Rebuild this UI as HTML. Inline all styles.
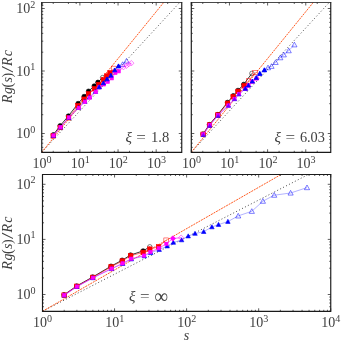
<!DOCTYPE html>
<html><head><meta charset="utf-8"><title>Rg(s)/Rc vs s</title>
<style>html,body{margin:0;padding:0;background:#fff}svg{display:block;will-change:transform}</style>
</head><body>
<svg width="341" height="342" viewBox="0 0 341 342">
<rect width="341" height="342" fill="#fff"/>
<defs><filter id="gf" x="0" y="0" width="341" height="342" filterUnits="userSpaceOnUse"><feColorMatrix type="saturate" values="1"/></filter>
<clipPath id="c0"><rect x="41.75" y="2.50" width="140.00" height="149.80"/></clipPath>
<clipPath id="c1"><rect x="191.30" y="2.50" width="139.45" height="149.80"/></clipPath>
<clipPath id="c2"><rect x="42.50" y="174.50" width="288.25" height="136.80"/></clipPath>
</defs>
<g clip-path="url(#c0)">
<line x1="41.75" y1="152.30" x2="179.67" y2="2.50" stroke="#4a4a4a" stroke-width="1.0" stroke-dasharray="1 2.3"/>
<line x1="41.75" y1="152.30" x2="163.67" y2="2.50" stroke="#ff5a20" stroke-width="1.0" stroke-dasharray="2.0 0.9"/>
<path d="M53.3 134.8L60.1 125.8L68.4 116.0L78.1 103.5L84.1 96.5L88.5 91.2L94.2 86.0L97.9 82.3L102.6 77.6" fill="none" stroke="#000" stroke-width="0.8"/>
<circle cx="53.30" cy="134.80" r="2.25" fill="#000" stroke="#000" stroke-width="0.6"/>
<circle cx="60.10" cy="125.80" r="2.25" fill="#000" stroke="#000" stroke-width="0.6"/>
<circle cx="68.40" cy="116.00" r="2.25" fill="#000" stroke="#000" stroke-width="0.6"/>
<circle cx="78.10" cy="103.50" r="2.25" fill="#000" stroke="#000" stroke-width="0.6"/>
<circle cx="84.10" cy="96.50" r="2.25" fill="#000" stroke="#000" stroke-width="0.6"/>
<circle cx="88.50" cy="91.20" r="2.25" fill="#000" stroke="#000" stroke-width="0.6"/>
<circle cx="94.20" cy="86.00" r="2.25" fill="#000" stroke="#000" stroke-width="0.6"/>
<circle cx="97.90" cy="82.30" r="2.25" fill="#000" stroke="#000" stroke-width="0.6"/>
<circle cx="102.60" cy="77.60" r="2.25" fill="none" stroke="#000" stroke-width="0.5"/>
<path d="M53.2 135.9L60.2 127.5L68.6 117.8L77.9 105.7L84.1 99.2L88.5 93.9L94.4 88.8L98.8 84.5L103.4 79.8L106.6 76.0L110.0 72.9L113.9 68.4" fill="none" stroke="#ff0000" stroke-width="0.55"/>
<rect x="50.96" y="133.66" width="4.48" height="4.48" fill="#ff0000" stroke="#ff0000" stroke-width="0.6"/>
<rect x="57.96" y="125.26" width="4.48" height="4.48" fill="#ff0000" stroke="#ff0000" stroke-width="0.6"/>
<rect x="66.36" y="115.56" width="4.48" height="4.48" fill="#ff0000" stroke="#ff0000" stroke-width="0.6"/>
<rect x="75.66" y="103.46" width="4.48" height="4.48" fill="#ff0000" stroke="#ff0000" stroke-width="0.6"/>
<rect x="81.86" y="96.96" width="4.48" height="4.48" fill="#ff0000" stroke="#ff0000" stroke-width="0.6"/>
<rect x="86.26" y="91.66" width="4.48" height="4.48" fill="#ff0000" stroke="#ff0000" stroke-width="0.6"/>
<rect x="92.16" y="86.56" width="4.48" height="4.48" fill="#ff0000" stroke="#ff0000" stroke-width="0.6"/>
<rect x="96.56" y="82.26" width="4.48" height="4.48" fill="#ff0000" stroke="#ff0000" stroke-width="0.6"/>
<rect x="101.16" y="77.56" width="4.48" height="4.48" fill="#ff0000" stroke="#ff0000" stroke-width="0.6"/>
<rect x="104.36" y="73.76" width="4.48" height="4.48" fill="#ff0000" stroke="#ff0000" stroke-width="0.6"/>
<rect x="107.76" y="70.66" width="4.48" height="4.48" fill="#ff0000" stroke="#ff0000" stroke-width="0.6"/>
<rect x="111.66" y="66.16" width="4.48" height="4.48" fill="none" stroke="#ff0000" stroke-width="0.5"/>
<path d="M53.5 135.6L60.5 127.3L68.9 117.6L78.6 107.6L84.8 101.4L89.4 97.0L95.4 91.6L99.2 87.0L103.4 83.1L107.0 79.2L110.9 75.6L114.8 70.2L118.5 66.1L122.6 64.4L126.5 61.0" fill="none" stroke="#6666ff" stroke-width="0.5"/>
<path d="M53.50 133.35L55.75 137.40H51.25Z" fill="#0000ff" stroke="#0000ff" stroke-width="0.6"/>
<path d="M60.50 125.05L62.75 129.10H58.25Z" fill="#0000ff" stroke="#0000ff" stroke-width="0.6"/>
<path d="M68.90 115.35L71.15 119.40H66.65Z" fill="#0000ff" stroke="#0000ff" stroke-width="0.6"/>
<path d="M78.60 105.35L80.85 109.40H76.35Z" fill="#0000ff" stroke="#0000ff" stroke-width="0.6"/>
<path d="M84.80 99.15L87.05 103.20H82.55Z" fill="#0000ff" stroke="#0000ff" stroke-width="0.6"/>
<path d="M89.40 94.75L91.65 98.80H87.15Z" fill="#0000ff" stroke="#0000ff" stroke-width="0.6"/>
<path d="M95.40 89.35L97.65 93.40H93.15Z" fill="#0000ff" stroke="#0000ff" stroke-width="0.6"/>
<path d="M99.20 84.75L101.45 88.80H96.95Z" fill="#0000ff" stroke="#0000ff" stroke-width="0.6"/>
<path d="M103.40 80.85L105.65 84.90H101.15Z" fill="#0000ff" stroke="#0000ff" stroke-width="0.6"/>
<path d="M107.00 76.95L109.25 81.00H104.75Z" fill="#0000ff" stroke="#0000ff" stroke-width="0.6"/>
<path d="M110.90 73.35L113.15 77.40H108.65Z" fill="#0000ff" stroke="#0000ff" stroke-width="0.6"/>
<path d="M114.80 67.95L117.05 72.00H112.55Z" fill="#0000ff" stroke="#0000ff" stroke-width="0.6"/>
<path d="M118.50 63.85L120.75 67.90H116.25Z" fill="#0000ff" stroke="#0000ff" stroke-width="0.6"/>
<path d="M122.60 61.80L125.20 66.48H120.00Z" fill="none" stroke="#0000ff" stroke-width="0.5"/>
<path d="M126.50 58.40L129.10 63.08H123.90Z" fill="none" stroke="#0000ff" stroke-width="0.5"/>
<path d="M53.5 135.5L60.5 127.2L68.9 117.5L78.8 107.9L85.0 101.8L89.8 97.6L95.8 91.8L99.5 87.3L103.9 84.4L107.8 81.8L111.8 78.3L115.4 73.0L118.7 71.3L123.4 67.2L126.5 65.8L128.7 64.1L131.3 63.2" fill="none" stroke="#ff00ff" stroke-width="0.6"/>
<rect x="51.87" y="133.87" width="3.27" height="3.27" fill="#ff00ff" stroke="#ff00ff" stroke-width="0.6"/>
<rect x="58.87" y="125.57" width="3.27" height="3.27" fill="#ff00ff" stroke="#ff00ff" stroke-width="0.6"/>
<rect x="67.27" y="115.87" width="3.27" height="3.27" fill="#ff00ff" stroke="#ff00ff" stroke-width="0.6"/>
<rect x="77.17" y="106.27" width="3.27" height="3.27" fill="#ff00ff" stroke="#ff00ff" stroke-width="0.6"/>
<rect x="83.37" y="100.17" width="3.27" height="3.27" fill="#ff00ff" stroke="#ff00ff" stroke-width="0.6"/>
<rect x="88.17" y="95.97" width="3.27" height="3.27" fill="#ff00ff" stroke="#ff00ff" stroke-width="0.6"/>
<rect x="94.17" y="90.17" width="3.27" height="3.27" fill="#ff00ff" stroke="#ff00ff" stroke-width="0.6"/>
<rect x="97.87" y="85.67" width="3.27" height="3.27" fill="#ff00ff" stroke="#ff00ff" stroke-width="0.6"/>
<rect x="102.27" y="82.77" width="3.27" height="3.27" fill="#ff00ff" stroke="#ff00ff" stroke-width="0.6"/>
<rect x="106.17" y="80.17" width="3.27" height="3.27" fill="#ff00ff" stroke="#ff00ff" stroke-width="0.6"/>
<rect x="110.17" y="76.67" width="3.27" height="3.27" fill="#ff00ff" stroke="#ff00ff" stroke-width="0.6"/>
<rect x="113.77" y="71.37" width="3.27" height="3.27" fill="#ff00ff" stroke="#ff00ff" stroke-width="0.6"/>
<rect x="117.07" y="69.67" width="3.27" height="3.27" fill="#ff00ff" stroke="#ff00ff" stroke-width="0.6"/>
<path d="M123.40 64.50L126.10 67.20L123.40 69.90L120.70 67.20Z" fill="none" stroke="#ff00ff" stroke-width="0.5"/>
<path d="M126.50 63.10L129.20 65.80L126.50 68.50L123.80 65.80Z" fill="none" stroke="#ff00ff" stroke-width="0.5"/>
<path d="M128.70 61.40L131.40 64.10L128.70 66.80L126.00 64.10Z" fill="none" stroke="#ff00ff" stroke-width="0.5"/>
<path d="M131.30 60.50L134.00 63.20L131.30 65.90L128.60 63.20Z" fill="none" stroke="#ff00ff" stroke-width="0.5"/>
<path d="M99.20 84.93L101.27 88.66H97.13Z" fill="#0000ff" stroke="#0000ff" stroke-width="0.6"/>
<path d="M103.40 81.03L105.47 84.76H101.33Z" fill="#0000ff" stroke="#0000ff" stroke-width="0.6"/>
<path d="M107.00 77.13L109.07 80.86H104.93Z" fill="#0000ff" stroke="#0000ff" stroke-width="0.6"/>
<path d="M110.90 73.53L112.97 77.26H108.83Z" fill="#0000ff" stroke="#0000ff" stroke-width="0.6"/>
<path d="M114.80 68.13L116.87 71.86H112.73Z" fill="#0000ff" stroke="#0000ff" stroke-width="0.6"/>
<path d="M118.50 64.03L120.57 67.76H116.43Z" fill="#0000ff" stroke="#0000ff" stroke-width="0.6"/>
</g>
<g clip-path="url(#c1)">
<line x1="191.30" y1="152.30" x2="329.22" y2="2.50" stroke="#4a4a4a" stroke-width="1.0" stroke-dasharray="1 2.3"/>
<line x1="191.30" y1="152.30" x2="313.22" y2="2.50" stroke="#ff5a20" stroke-width="1.0" stroke-dasharray="2.0 0.9"/>
<path d="M203.0 134.0L209.4 124.6L217.8 114.6L227.5 102.4L233.2 95.8L238.0 90.4L243.7 84.4L251.9 73.4" fill="none" stroke="#000" stroke-width="0.8"/>
<circle cx="203.00" cy="134.00" r="2.25" fill="#000" stroke="#000" stroke-width="0.6"/>
<circle cx="209.40" cy="124.60" r="2.25" fill="#000" stroke="#000" stroke-width="0.6"/>
<circle cx="217.80" cy="114.60" r="2.25" fill="#000" stroke="#000" stroke-width="0.6"/>
<circle cx="227.50" cy="102.40" r="2.25" fill="#000" stroke="#000" stroke-width="0.6"/>
<circle cx="233.20" cy="95.80" r="2.25" fill="#000" stroke="#000" stroke-width="0.6"/>
<circle cx="238.00" cy="90.40" r="2.25" fill="#000" stroke="#000" stroke-width="0.6"/>
<circle cx="243.70" cy="84.40" r="2.25" fill="#000" stroke="#000" stroke-width="0.6"/>
<circle cx="251.90" cy="73.40" r="2.25" fill="none" stroke="#000" stroke-width="0.5"/>
<path d="M203.1 134.3L209.5 125.0L217.9 115.0L227.5 103.3L233.2 96.7L238.0 91.4L244.2 85.7L248.5 81.0L255.0 72.5" fill="none" stroke="#ff0000" stroke-width="0.55"/>
<rect x="200.86" y="132.06" width="4.48" height="4.48" fill="#ff0000" stroke="#ff0000" stroke-width="0.6"/>
<rect x="207.26" y="122.76" width="4.48" height="4.48" fill="#ff0000" stroke="#ff0000" stroke-width="0.6"/>
<rect x="215.66" y="112.76" width="4.48" height="4.48" fill="#ff0000" stroke="#ff0000" stroke-width="0.6"/>
<rect x="225.26" y="101.06" width="4.48" height="4.48" fill="#ff0000" stroke="#ff0000" stroke-width="0.6"/>
<rect x="230.96" y="94.46" width="4.48" height="4.48" fill="#ff0000" stroke="#ff0000" stroke-width="0.6"/>
<rect x="235.76" y="89.16" width="4.48" height="4.48" fill="#ff0000" stroke="#ff0000" stroke-width="0.6"/>
<rect x="241.96" y="83.46" width="4.48" height="4.48" fill="#ff0000" stroke="#ff0000" stroke-width="0.6"/>
<rect x="246.26" y="78.76" width="4.48" height="4.48" fill="none" stroke="#ff0000" stroke-width="0.5"/>
<rect x="252.76" y="70.26" width="4.48" height="4.48" fill="none" stroke="#ff0000" stroke-width="0.5"/>
<path d="M203.3 134.6L209.7 125.4L218.1 115.5L228.4 105.5L234.5 98.9L238.9 94.1L245.3 88.6L248.4 85.3L252.3 81.3L256.3 77.8L259.8 73.6L264.4 70.0L268.0 67.7L271.5 66.3L275.6 62.4L280.3 57.7L283.8 54.8L288.7 50.7L294.4 44.8" fill="none" stroke="#6666ff" stroke-width="0.5"/>
<path d="M203.30 132.35L205.55 136.40H201.05Z" fill="#0000ff" stroke="#0000ff" stroke-width="0.6"/>
<path d="M209.70 123.15L211.95 127.20H207.45Z" fill="#0000ff" stroke="#0000ff" stroke-width="0.6"/>
<path d="M218.10 113.25L220.35 117.30H215.85Z" fill="#0000ff" stroke="#0000ff" stroke-width="0.6"/>
<path d="M228.40 103.25L230.65 107.30H226.15Z" fill="#0000ff" stroke="#0000ff" stroke-width="0.6"/>
<path d="M234.50 96.65L236.75 100.70H232.25Z" fill="#0000ff" stroke="#0000ff" stroke-width="0.6"/>
<path d="M238.90 91.85L241.15 95.90H236.65Z" fill="#0000ff" stroke="#0000ff" stroke-width="0.6"/>
<path d="M245.30 86.35L247.55 90.40H243.05Z" fill="#0000ff" stroke="#0000ff" stroke-width="0.6"/>
<path d="M248.40 83.05L250.65 87.10H246.15Z" fill="#0000ff" stroke="#0000ff" stroke-width="0.6"/>
<path d="M252.30 79.05L254.55 83.10H250.05Z" fill="#0000ff" stroke="#0000ff" stroke-width="0.6"/>
<path d="M256.30 75.55L258.55 79.60H254.05Z" fill="#0000ff" stroke="#0000ff" stroke-width="0.6"/>
<path d="M259.80 71.35L262.05 75.40H257.55Z" fill="#0000ff" stroke="#0000ff" stroke-width="0.6"/>
<path d="M264.40 67.75L266.65 71.80H262.15Z" fill="#0000ff" stroke="#0000ff" stroke-width="0.6"/>
<path d="M268.00 65.10L270.60 69.78H265.40Z" fill="none" stroke="#0000ff" stroke-width="0.5"/>
<path d="M271.50 63.70L274.10 68.38H268.90Z" fill="none" stroke="#0000ff" stroke-width="0.5"/>
<path d="M275.60 59.80L278.20 64.48H273.00Z" fill="none" stroke="#0000ff" stroke-width="0.5"/>
<path d="M280.30 55.10L282.90 59.78H277.70Z" fill="none" stroke="#0000ff" stroke-width="0.5"/>
<path d="M283.80 52.20L286.40 56.88H281.20Z" fill="none" stroke="#0000ff" stroke-width="0.5"/>
<path d="M288.70 48.10L291.30 52.78H286.10Z" fill="none" stroke="#0000ff" stroke-width="0.5"/>
<path d="M294.40 42.20L297.00 46.88H291.80Z" fill="none" stroke="#0000ff" stroke-width="0.5"/>
<path d="M203.2 134.4L209.6 125.2L218.0 115.2L228.4 105.5L234.5 98.9L238.9 94.1L245.5 88.8L248.5 85.5L252.4 81.6L256.6 78.5" fill="none" stroke="#ff00ff" stroke-width="0.6"/>
<rect x="201.57" y="132.77" width="3.27" height="3.27" fill="#ff00ff" stroke="#ff00ff" stroke-width="0.6"/>
<rect x="207.97" y="123.57" width="3.27" height="3.27" fill="#ff00ff" stroke="#ff00ff" stroke-width="0.6"/>
<rect x="216.37" y="113.57" width="3.27" height="3.27" fill="#ff00ff" stroke="#ff00ff" stroke-width="0.6"/>
<rect x="226.77" y="103.87" width="3.27" height="3.27" fill="#ff00ff" stroke="#ff00ff" stroke-width="0.6"/>
<rect x="232.87" y="97.27" width="3.27" height="3.27" fill="#ff00ff" stroke="#ff00ff" stroke-width="0.6"/>
<rect x="237.27" y="92.47" width="3.27" height="3.27" fill="#ff00ff" stroke="#ff00ff" stroke-width="0.6"/>
<rect x="243.87" y="87.17" width="3.27" height="3.27" fill="#ff00ff" stroke="#ff00ff" stroke-width="0.6"/>
<rect x="246.87" y="83.87" width="3.27" height="3.27" fill="#ff00ff" stroke="#ff00ff" stroke-width="0.6"/>
<rect x="250.77" y="79.97" width="3.27" height="3.27" fill="#ff00ff" stroke="#ff00ff" stroke-width="0.6"/>
<rect x="254.97" y="76.87" width="3.27" height="3.27" fill="#ff00ff" stroke="#ff00ff" stroke-width="0.6"/>
<path d="M245.30 86.53L247.37 90.26H243.23Z" fill="#0000ff" stroke="#0000ff" stroke-width="0.6"/>
<path d="M248.40 83.23L250.47 86.96H246.33Z" fill="#0000ff" stroke="#0000ff" stroke-width="0.6"/>
<path d="M252.30 79.23L254.37 82.96H250.23Z" fill="#0000ff" stroke="#0000ff" stroke-width="0.6"/>
<path d="M256.30 75.73L258.37 79.46H254.23Z" fill="#0000ff" stroke="#0000ff" stroke-width="0.6"/>
<path d="M259.80 71.53L261.87 75.26H257.73Z" fill="#0000ff" stroke="#0000ff" stroke-width="0.6"/>
<path d="M264.40 67.93L266.47 71.66H262.33Z" fill="#0000ff" stroke="#0000ff" stroke-width="0.6"/>
<g opacity="0.55">
<path d="M203.30 133.33L204.88 136.16H201.73Z" fill="#0000ff" stroke="#0000ff" stroke-width="0.6"/>
<path d="M209.70 124.12L211.27 126.96H208.12Z" fill="#0000ff" stroke="#0000ff" stroke-width="0.6"/>
<path d="M218.10 114.22L219.67 117.06H216.53Z" fill="#0000ff" stroke="#0000ff" stroke-width="0.6"/>
<path d="M228.40 104.22L229.97 107.06H226.83Z" fill="#0000ff" stroke="#0000ff" stroke-width="0.6"/>
<path d="M234.50 97.62L236.07 100.46H232.93Z" fill="#0000ff" stroke="#0000ff" stroke-width="0.6"/>
<path d="M238.90 92.82L240.47 95.66H237.33Z" fill="#0000ff" stroke="#0000ff" stroke-width="0.6"/>
</g>
</g>
<g clip-path="url(#c2)">
<line x1="42.50" y1="311.30" x2="308.34" y2="174.50" stroke="#4a4a4a" stroke-width="1.0" stroke-dasharray="1 2.3"/>
<line x1="42.50" y1="311.30" x2="281.04" y2="174.50" stroke="#ff5a20" stroke-width="1.0" stroke-dasharray="2.0 0.9"/>
<path d="M64.0 294.8L76.7 286.0L92.7 277.0L111.0 266.2L122.2 260.2L130.6 255.0L143.1 250.9L149.8 246.8" fill="none" stroke="#000" stroke-width="0.8"/>
<circle cx="64.00" cy="294.80" r="2.25" fill="#000" stroke="#000" stroke-width="0.6"/>
<circle cx="76.70" cy="286.00" r="2.25" fill="#000" stroke="#000" stroke-width="0.6"/>
<circle cx="92.70" cy="277.00" r="2.25" fill="#000" stroke="#000" stroke-width="0.6"/>
<circle cx="111.00" cy="266.20" r="2.25" fill="#000" stroke="#000" stroke-width="0.6"/>
<circle cx="122.20" cy="260.20" r="2.25" fill="#000" stroke="#000" stroke-width="0.6"/>
<circle cx="130.60" cy="255.00" r="2.25" fill="#000" stroke="#000" stroke-width="0.6"/>
<circle cx="143.10" cy="250.90" r="2.25" fill="#000" stroke="#000" stroke-width="0.6"/>
<circle cx="149.80" cy="246.80" r="2.25" fill="none" stroke="#000" stroke-width="0.5"/>
<path d="M64.1 295.1L76.8 286.3L92.8 277.4L111.1 266.9L122.3 261.0L130.7 255.7L143.1 252.4L149.8 249.1L158.6 246.8L166.1 240.2" fill="none" stroke="#ff0000" stroke-width="0.55"/>
<rect x="61.86" y="292.86" width="4.48" height="4.48" fill="#ff0000" stroke="#ff0000" stroke-width="0.6"/>
<rect x="74.56" y="284.06" width="4.48" height="4.48" fill="#ff0000" stroke="#ff0000" stroke-width="0.6"/>
<rect x="90.56" y="275.16" width="4.48" height="4.48" fill="#ff0000" stroke="#ff0000" stroke-width="0.6"/>
<rect x="108.86" y="264.66" width="4.48" height="4.48" fill="#ff0000" stroke="#ff0000" stroke-width="0.6"/>
<rect x="120.06" y="258.76" width="4.48" height="4.48" fill="#ff0000" stroke="#ff0000" stroke-width="0.6"/>
<rect x="128.46" y="253.46" width="4.48" height="4.48" fill="#ff0000" stroke="#ff0000" stroke-width="0.6"/>
<rect x="140.86" y="250.16" width="4.48" height="4.48" fill="#ff0000" stroke="#ff0000" stroke-width="0.6"/>
<rect x="147.56" y="246.86" width="4.48" height="4.48" fill="#ff0000" stroke="#ff0000" stroke-width="0.6"/>
<rect x="156.36" y="244.56" width="4.48" height="4.48" fill="#ff0000" stroke="#ff0000" stroke-width="0.6"/>
<rect x="163.86" y="237.96" width="4.48" height="4.48" fill="none" stroke="#ff0000" stroke-width="0.5"/>
<path d="M64.2 295.3L76.9 286.7L92.9 277.9L111.6 268.8L122.7 263.7L131.3 259.1L144.3 256.0L150.8 252.8L159.2 249.6L167.2 246.1L173.3 242.5L181.6 240.0L188.2 236.1L195.0 233.5L203.7 231.7L211.9 227.0L218.5 224.6L227.9 221.6L238.2 215.9L251.8 211.3L262.9 201.2L274.2 195.2L290.6 193.0L307.0 187.6" fill="none" stroke="#6666ff" stroke-width="0.5"/>
<path d="M64.20 293.05L66.45 297.10H61.95Z" fill="#0000ff" stroke="#0000ff" stroke-width="0.6"/>
<path d="M76.90 284.45L79.15 288.50H74.65Z" fill="#0000ff" stroke="#0000ff" stroke-width="0.6"/>
<path d="M92.90 275.65L95.15 279.70H90.65Z" fill="#0000ff" stroke="#0000ff" stroke-width="0.6"/>
<path d="M111.60 266.55L113.85 270.60H109.35Z" fill="#0000ff" stroke="#0000ff" stroke-width="0.6"/>
<path d="M122.70 261.45L124.95 265.50H120.45Z" fill="#0000ff" stroke="#0000ff" stroke-width="0.6"/>
<path d="M131.30 256.85L133.55 260.90H129.05Z" fill="#0000ff" stroke="#0000ff" stroke-width="0.6"/>
<path d="M144.30 253.75L146.55 257.80H142.05Z" fill="#0000ff" stroke="#0000ff" stroke-width="0.6"/>
<path d="M150.80 250.55L153.05 254.60H148.55Z" fill="#0000ff" stroke="#0000ff" stroke-width="0.6"/>
<path d="M159.20 247.35L161.45 251.40H156.95Z" fill="#0000ff" stroke="#0000ff" stroke-width="0.6"/>
<path d="M167.20 243.85L169.45 247.90H164.95Z" fill="#0000ff" stroke="#0000ff" stroke-width="0.6"/>
<path d="M173.30 240.25L175.55 244.30H171.05Z" fill="#0000ff" stroke="#0000ff" stroke-width="0.6"/>
<path d="M181.60 237.75L183.85 241.80H179.35Z" fill="#0000ff" stroke="#0000ff" stroke-width="0.6"/>
<path d="M188.20 233.85L190.45 237.90H185.95Z" fill="#0000ff" stroke="#0000ff" stroke-width="0.6"/>
<path d="M195.00 231.25L197.25 235.30H192.75Z" fill="#0000ff" stroke="#0000ff" stroke-width="0.6"/>
<path d="M203.70 229.45L205.95 233.50H201.45Z" fill="#0000ff" stroke="#0000ff" stroke-width="0.6"/>
<path d="M211.90 224.75L214.15 228.80H209.65Z" fill="#0000ff" stroke="#0000ff" stroke-width="0.6"/>
<path d="M218.50 222.35L220.75 226.40H216.25Z" fill="#0000ff" stroke="#0000ff" stroke-width="0.6"/>
<path d="M227.90 219.35L230.15 223.40H225.65Z" fill="#0000ff" stroke="#0000ff" stroke-width="0.6"/>
<path d="M238.20 213.30L240.80 217.98H235.60Z" fill="none" stroke="#0000ff" stroke-width="0.5"/>
<path d="M251.80 208.70L254.40 213.38H249.20Z" fill="none" stroke="#0000ff" stroke-width="0.5"/>
<path d="M262.90 198.60L265.50 203.28H260.30Z" fill="none" stroke="#0000ff" stroke-width="0.5"/>
<path d="M274.20 192.60L276.80 197.28H271.60Z" fill="none" stroke="#0000ff" stroke-width="0.5"/>
<path d="M290.60 190.40L293.20 195.08H288.00Z" fill="none" stroke="#0000ff" stroke-width="0.5"/>
<path d="M307.00 185.00L309.60 189.68H304.40Z" fill="none" stroke="#0000ff" stroke-width="0.5"/>
<path d="M64.2 295.2L76.9 286.6L92.9 277.8L111.5 268.6L122.5 263.4L131.1 258.7L144.0 255.6L150.4 252.0L158.8 248.3L166.4 243.8L172.9 238.5L181.1 237.7" fill="none" stroke="#ff00ff" stroke-width="0.6"/>
<rect x="62.57" y="293.57" width="3.27" height="3.27" fill="#ff00ff" stroke="#ff00ff" stroke-width="0.6"/>
<rect x="75.27" y="284.97" width="3.27" height="3.27" fill="#ff00ff" stroke="#ff00ff" stroke-width="0.6"/>
<rect x="91.27" y="276.17" width="3.27" height="3.27" fill="#ff00ff" stroke="#ff00ff" stroke-width="0.6"/>
<rect x="109.87" y="266.97" width="3.27" height="3.27" fill="#ff00ff" stroke="#ff00ff" stroke-width="0.6"/>
<rect x="120.87" y="261.77" width="3.27" height="3.27" fill="#ff00ff" stroke="#ff00ff" stroke-width="0.6"/>
<rect x="129.47" y="257.07" width="3.27" height="3.27" fill="#ff00ff" stroke="#ff00ff" stroke-width="0.6"/>
<rect x="142.37" y="253.97" width="3.27" height="3.27" fill="#ff00ff" stroke="#ff00ff" stroke-width="0.6"/>
<rect x="148.77" y="250.37" width="3.27" height="3.27" fill="#ff00ff" stroke="#ff00ff" stroke-width="0.6"/>
<rect x="157.17" y="246.67" width="3.27" height="3.27" fill="#ff00ff" stroke="#ff00ff" stroke-width="0.6"/>
<rect x="164.77" y="242.17" width="3.27" height="3.27" fill="#ff00ff" stroke="#ff00ff" stroke-width="0.6"/>
<path d="M172.90 235.80L175.60 238.50L172.90 241.20L170.20 238.50Z" fill="#ff00ff" stroke="#ff00ff" stroke-width="0.6"/>
<path d="M181.10 235.00L183.80 237.70L181.10 240.40L178.40 237.70Z" fill="none" stroke="#ff00ff" stroke-width="0.5"/>
</g>
<path d="M41.75 2.20V152.30H181.75V2.20" fill="none" stroke="#1a1a1a" stroke-width="1.15" stroke-linejoin="miter"/>
<path d="M41.25 2.50H182.25" fill="none" stroke="#1a1a1a" stroke-width="0.8"/>
<path d="M41.75 152.30v-3.0M41.75 2.50v3.0M53.23 152.30v-1.5M53.23 2.50v1.5M68.42 152.30v-1.5M68.42 2.50v1.5M76.20 152.30v-1.5M76.20 2.50v1.5M79.90 152.30v-3.0M79.90 2.50v3.0M91.38 152.30v-1.5M91.38 2.50v1.5M106.57 152.30v-1.5M106.57 2.50v1.5M114.35 152.30v-1.5M114.35 2.50v1.5M118.05 152.30v-3.0M118.05 2.50v3.0M129.53 152.30v-1.5M129.53 2.50v1.5M144.72 152.30v-1.5M144.72 2.50v1.5M152.50 152.30v-1.5M152.50 2.50v1.5M156.20 152.30v-3.0M156.20 2.50v3.0M167.68 152.30v-1.5M167.68 2.50v1.5M41.75 147.37h1.5M181.75 147.37h-1.5M41.75 143.18h1.5M181.75 143.18h-1.5M41.75 139.56h1.5M181.75 139.56h-1.5M41.75 136.36h1.5M181.75 136.36h-1.5M41.75 133.50h3.0M181.75 133.50h-3.0M41.75 114.69h1.5M181.75 114.69h-1.5M41.75 103.68h1.5M181.75 103.68h-1.5M41.75 95.87h1.5M181.75 95.87h-1.5M41.75 89.81h1.5M181.75 89.81h-1.5M41.75 84.87h1.5M181.75 84.87h-1.5M41.75 80.68h1.5M181.75 80.68h-1.5M41.75 77.06h1.5M181.75 77.06h-1.5M41.75 73.86h1.5M181.75 73.86h-1.5M41.75 71.00h3.0M181.75 71.00h-3.0M41.75 52.19h1.5M181.75 52.19h-1.5M41.75 41.18h1.5M181.75 41.18h-1.5M41.75 33.37h1.5M181.75 33.37h-1.5M41.75 27.31h1.5M181.75 27.31h-1.5M41.75 22.37h1.5M181.75 22.37h-1.5M41.75 18.18h1.5M181.75 18.18h-1.5M41.75 14.56h1.5M181.75 14.56h-1.5M41.75 11.36h1.5M181.75 11.36h-1.5M41.75 8.50h3.0M181.75 8.50h-3.0M41.75 3.9h1.4M41.75 5.4h1.6" stroke="#1a1a1a" stroke-width="0.7" fill="none"/>
<path d="M191.30 2.20V152.30H330.75V2.20" fill="none" stroke="#1a1a1a" stroke-width="1.15" stroke-linejoin="miter"/>
<path d="M190.80 2.50H331.25" fill="none" stroke="#1a1a1a" stroke-width="0.8"/>
<path d="M191.30 152.30v-3.0M191.30 2.50v3.0M202.78 152.30v-1.5M202.78 2.50v1.5M217.97 152.30v-1.5M217.97 2.50v1.5M225.75 152.30v-1.5M225.75 2.50v1.5M229.45 152.30v-3.0M229.45 2.50v3.0M240.93 152.30v-1.5M240.93 2.50v1.5M256.12 152.30v-1.5M256.12 2.50v1.5M263.90 152.30v-1.5M263.90 2.50v1.5M267.60 152.30v-3.0M267.60 2.50v3.0M279.08 152.30v-1.5M279.08 2.50v1.5M294.27 152.30v-1.5M294.27 2.50v1.5M302.05 152.30v-1.5M302.05 2.50v1.5M305.75 152.30v-3.0M305.75 2.50v3.0M317.23 152.30v-1.5M317.23 2.50v1.5M191.30 147.37h1.5M330.75 147.37h-1.5M191.30 143.18h1.5M330.75 143.18h-1.5M191.30 139.56h1.5M330.75 139.56h-1.5M191.30 136.36h1.5M330.75 136.36h-1.5M191.30 133.50h3.0M330.75 133.50h-3.0M191.30 114.69h1.5M330.75 114.69h-1.5M191.30 103.68h1.5M330.75 103.68h-1.5M191.30 95.87h1.5M330.75 95.87h-1.5M191.30 89.81h1.5M330.75 89.81h-1.5M191.30 84.87h1.5M330.75 84.87h-1.5M191.30 80.68h1.5M330.75 80.68h-1.5M191.30 77.06h1.5M330.75 77.06h-1.5M191.30 73.86h1.5M330.75 73.86h-1.5M191.30 71.00h3.0M330.75 71.00h-3.0M191.30 52.19h1.5M330.75 52.19h-1.5M191.30 41.18h1.5M330.75 41.18h-1.5M191.30 33.37h1.5M330.75 33.37h-1.5M191.30 27.31h1.5M330.75 27.31h-1.5M191.30 22.37h1.5M330.75 22.37h-1.5M191.30 18.18h1.5M330.75 18.18h-1.5M191.30 14.56h1.5M330.75 14.56h-1.5M191.30 11.36h1.5M330.75 11.36h-1.5M191.30 8.50h3.0M330.75 8.50h-3.0M191.30 3.9h1.4M191.30 5.4h1.6" stroke="#1a1a1a" stroke-width="0.7" fill="none"/>
<path d="M42.50 174.20V311.30H330.75V174.20" fill="none" stroke="#1a1a1a" stroke-width="1.15" stroke-linejoin="miter"/>
<path d="M42.00 174.50H331.25" fill="none" stroke="#1a1a1a" stroke-width="1.15"/>
<path d="M42.50 311.30v-3.0M42.50 174.50v3.0M64.19 311.30v-1.5M64.19 174.50v1.5M76.88 311.30v-1.5M76.88 174.50v1.5M85.88 311.30v-1.5M85.88 174.50v1.5M92.87 311.30v-1.5M92.87 174.50v1.5M98.57 311.30v-1.5M98.57 174.50v1.5M103.40 311.30v-1.5M103.40 174.50v1.5M107.58 311.30v-1.5M107.58 174.50v1.5M111.26 311.30v-1.5M111.26 174.50v1.5M114.56 311.30v-3.0M114.56 174.50v3.0M136.25 311.30v-1.5M136.25 174.50v1.5M148.94 311.30v-1.5M148.94 174.50v1.5M157.94 311.30v-1.5M157.94 174.50v1.5M164.93 311.30v-1.5M164.93 174.50v1.5M170.63 311.30v-1.5M170.63 174.50v1.5M175.46 311.30v-1.5M175.46 174.50v1.5M179.64 311.30v-1.5M179.64 174.50v1.5M183.32 311.30v-1.5M183.32 174.50v1.5M186.62 311.30v-3.0M186.62 174.50v3.0M208.31 311.30v-1.5M208.31 174.50v1.5M221.00 311.30v-1.5M221.00 174.50v1.5M230.00 311.30v-1.5M230.00 174.50v1.5M236.99 311.30v-1.5M236.99 174.50v1.5M242.69 311.30v-1.5M242.69 174.50v1.5M247.52 311.30v-1.5M247.52 174.50v1.5M251.70 311.30v-1.5M251.70 174.50v1.5M255.38 311.30v-1.5M255.38 174.50v1.5M258.68 311.30v-3.0M258.68 174.50v3.0M280.37 311.30v-1.5M280.37 174.50v1.5M293.06 311.30v-1.5M293.06 174.50v1.5M302.06 311.30v-1.5M302.06 174.50v1.5M309.05 311.30v-1.5M309.05 174.50v1.5M314.75 311.30v-1.5M314.75 174.50v1.5M319.58 311.30v-1.5M319.58 174.50v1.5M323.76 311.30v-1.5M323.76 174.50v1.5M327.44 311.30v-1.5M327.44 174.50v1.5M330.74 311.30v-3.0M330.74 174.50v3.0M42.50 311.09h1.5M330.75 311.09h-1.5M42.50 306.72h1.5M330.75 306.72h-1.5M42.50 303.04h1.5M330.75 303.04h-1.5M42.50 299.84h1.5M330.75 299.84h-1.5M42.50 297.02h1.5M330.75 297.02h-1.5M42.50 294.50h3.0M330.75 294.50h-3.0M42.50 277.91h1.5M330.75 277.91h-1.5M42.50 268.21h1.5M330.75 268.21h-1.5M42.50 261.33h1.5M330.75 261.33h-1.5M42.50 255.99h1.5M330.75 255.99h-1.5M42.50 251.62h1.5M330.75 251.62h-1.5M42.50 247.94h1.5M330.75 247.94h-1.5M42.50 244.74h1.5M330.75 244.74h-1.5M42.50 241.92h1.5M330.75 241.92h-1.5M42.50 239.40h3.0M330.75 239.40h-3.0M42.50 222.81h1.5M330.75 222.81h-1.5M42.50 213.11h1.5M330.75 213.11h-1.5M42.50 206.23h1.5M330.75 206.23h-1.5M42.50 200.89h1.5M330.75 200.89h-1.5M42.50 196.52h1.5M330.75 196.52h-1.5M42.50 192.84h1.5M330.75 192.84h-1.5M42.50 189.64h1.5M330.75 189.64h-1.5M42.50 186.82h1.5M330.75 186.82h-1.5M42.50 184.30h3.0M330.75 184.30h-3.0" stroke="#1a1a1a" stroke-width="0.7" fill="none"/>
<g font-family="'Liberation Serif', serif" fill="#404040" filter="url(#gf)">
<text x="16.15" y="138.00" font-size="14">10<tspan dx="0" dy="-5.5" font-size="10.1">0</tspan></text>
<text x="16.15" y="75.50" font-size="14">10<tspan dx="0" dy="-5.5" font-size="10.1">1</tspan></text>
<text x="16.15" y="13.00" font-size="14">10<tspan dx="0" dy="-5.5" font-size="10.1">2</tspan></text>
<text x="16.55" y="299.00" font-size="14">10<tspan dx="0" dy="-5.5" font-size="10.1">0</tspan></text>
<text x="16.55" y="243.90" font-size="14">10<tspan dx="0" dy="-5.5" font-size="10.1">1</tspan></text>
<text x="16.55" y="188.80" font-size="14">10<tspan dx="0" dy="-5.5" font-size="10.1">2</tspan></text>
<text x="32.52" y="168.20" font-size="14">10<tspan dx="0" dy="-5.5" font-size="10.1">0</tspan></text>
<text x="70.67" y="168.20" font-size="14">10<tspan dx="0" dy="-5.5" font-size="10.1">1</tspan></text>
<text x="108.82" y="168.20" font-size="14">10<tspan dx="0" dy="-5.5" font-size="10.1">2</tspan></text>
<text x="146.97" y="168.20" font-size="14">10<tspan dx="0" dy="-5.5" font-size="10.1">3</tspan></text>
<text x="182.08" y="168.20" font-size="14">10<tspan dx="0" dy="-5.5" font-size="10.1">0</tspan></text>
<text x="220.23" y="168.20" font-size="14">10<tspan dx="0" dy="-5.5" font-size="10.1">1</tspan></text>
<text x="258.38" y="168.20" font-size="14">10<tspan dx="0" dy="-5.5" font-size="10.1">2</tspan></text>
<text x="296.53" y="168.20" font-size="14">10<tspan dx="0" dy="-5.5" font-size="10.1">3</tspan></text>
<text x="33.07" y="327.20" font-size="14">10<tspan dx="0" dy="-5.5" font-size="10.1">0</tspan></text>
<text x="105.14" y="327.20" font-size="14">10<tspan dx="0" dy="-5.5" font-size="10.1">1</tspan></text>
<text x="177.20" y="327.20" font-size="14">10<tspan dx="0" dy="-5.5" font-size="10.1">2</tspan></text>
<text x="249.25" y="327.20" font-size="14">10<tspan dx="0" dy="-5.5" font-size="10.1">3</tspan></text>
<text x="321.31" y="327.20" font-size="14">10<tspan dx="0" dy="-5.5" font-size="10.1">4</tspan></text>
<g transform="translate(11.8,102.90) rotate(-90)" font-size="14">
<text x="-0.3" y="0" font-style="italic">R</text>
<text x="8.9" y="0" font-style="italic">g</text>
<text transform="translate(15.3,0.6) scale(1,1.1)">(</text>
<text x="20.4" y="0" font-style="italic">s</text>
<text transform="translate(25.3,0.6) scale(1,1.1)">)</text>
<text transform="translate(30.3,1.2) scale(1.65,1.22)">/</text>
<text x="36.8" y="0" font-style="italic">R</text>
<text x="46.7" y="0" font-style="italic">c</text>
</g>
<g transform="translate(11.8,269.40) rotate(-90)" font-size="14">
<text x="-0.3" y="0" font-style="italic">R</text>
<text x="8.9" y="0" font-style="italic">g</text>
<text transform="translate(15.3,0.6) scale(1,1.1)">(</text>
<text x="20.4" y="0" font-style="italic">s</text>
<text transform="translate(25.3,0.6) scale(1,1.1)">)</text>
<text transform="translate(30.3,1.2) scale(1.65,1.22)">/</text>
<text x="36.8" y="0" font-style="italic">R</text>
<text x="46.7" y="0" font-style="italic">c</text>
</g>
<text x="186.4" y="340.2" text-anchor="middle" font-size="14" font-style="italic">s</text>
<text x="125.40" y="141.60" font-size="15" font-style="italic">ξ</text>
<text x="136.30" y="141.60" font-size="15" textLength="9.6" lengthAdjust="spacingAndGlyphs">=</text>
<text x="151.00" y="141.60" font-size="14.6">1.8</text>
<text x="274.60" y="141.60" font-size="15" font-style="italic">ξ</text>
<text x="285.50" y="141.60" font-size="15" textLength="9.6" lengthAdjust="spacingAndGlyphs">=</text>
<text x="299.90" y="141.60" font-size="14.3">6.03</text>
<text x="129.10" y="301.30" font-size="15" font-style="italic">ξ</text>
<text x="140.00" y="301.30" font-size="15" textLength="9.6" lengthAdjust="spacingAndGlyphs">=</text>
<text x="0.00" y="301.30" font-size="15"></text>
<text x="154.3" y="302.6" font-size="20" textLength="13.6" lengthAdjust="spacingAndGlyphs">∞</text>
</g>
</svg>
</body></html>
